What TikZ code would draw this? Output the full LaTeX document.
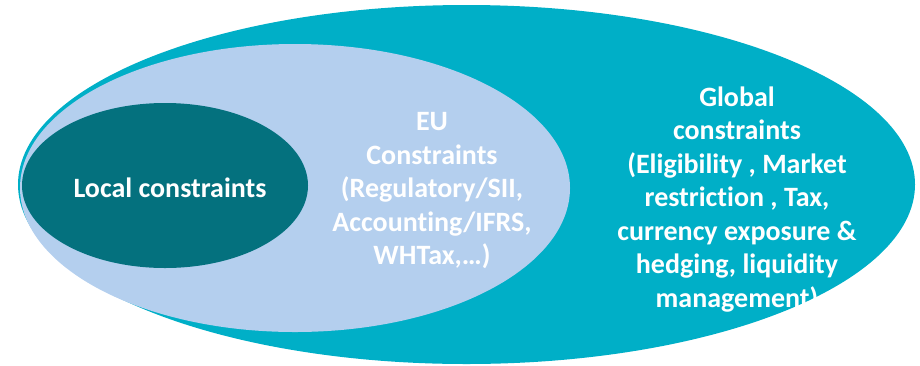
\documentclass[tikz,border=0pt]{standalone}
\usepackage{fontspec}
\setmainfont{Carlito}[Ligatures=NoCommon]
\usetikzlibrary{shapes.geometric}

\definecolor{globalteal}{RGB}{0,175,199}
\definecolor{eublue}{RGB}{180,207,238}
\definecolor{localteal}{RGB}{4,113,126}

\tikzset{
    zone/.style={ellipse, inner sep=0pt, draw=none},
    label text/.style={text=white, font=\bfseries\fontsize{28}{33.5}\selectfont, align=center}
}

\begin{document}
\begin{tikzpicture}[x=1pt, y=-1pt]
    % Frame
    \useasboundingbox (0,0) rectangle (920,365);

    % Nested zones
    \node[zone, fill=globalteal, minimum width=897pt, minimum height=359pt] (global) at (466.5,184.5) {};
    \node[zone, fill=eublue, minimum width=550pt, minimum height=288pt] (eu) at (295,188) {};
    \node[zone, fill=localteal, minimum width=286pt, minimum height=165pt] (local) at (165,185.5) {};

    % Labels
    \node[label text] (localtxt) at (170,188) {Local constraints};
    \node[label text] (eutxt) at (432,191) {EU\\Constraints\\(Regulatory/SII,\\Accounting/IFRS,\\WHTax,…)};
    \node[label text] (globaltxt) at (737,199.5) {Global\\constraints\\(Eligibility , Market\\restriction , Tax,\\currency exposure \&\\hedging, liquidity\\management)};
\end{tikzpicture}
\end{document}
